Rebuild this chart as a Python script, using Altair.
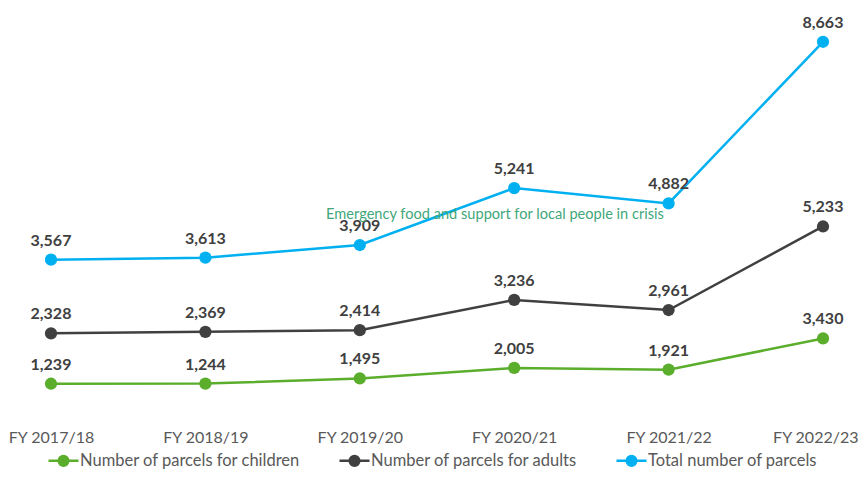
import altair as alt
import pandas as pd

categories = ["FY 2017/18", "FY 2018/19", "FY 2019/20", "FY 2020/21", "FY 2021/22", "FY 2022/23"]
series_names = ["Number of parcels for children", "Number of parcels for adults", "Total number of parcels"]
children = [1239, 1244, 1495, 2005, 1921, 3430]
adults = [2328, 2369, 2414, 3236, 2961, 5233]
total = [3567, 3613, 3909, 5241, 4882, 8663]
annotation = "Emergency food and support for local people in crisis"

colors = ["#5BAE2C", "#404040", "#00B0F0"]
domains = [[-517, 19425], [-29, 11173], [-183, 9453]]

rows = []
for name, vals in zip(series_names, [children, adults, total]):
    for c, v in zip(categories, vals):
        rows.append({"category": c, "series": name, "value": v})
df = pd.DataFrame(rows)

FONT = "Lato"

def ring(r):
    return f"M{-r},0A{r},{r} 0 1,0 {r},0A{r},{r} 0 1,0 {-r},0Z"

legend_path = "M-1.5,0L1.5,0" + ring(0.48) + ring(0.25) + ring(0.06)

last_test = f"datum.value == '{categories[-1]}'"

x_enc = alt.X(
    "category:N",
    sort=categories,
    scale=alt.Scale(type="point", padding=0, range=[43, 815]),
    axis=alt.Axis(title=None, labelAngle=0, domain=False, ticks=False, grid=False,
                  labelFont=FONT, labelFontSize=16, labelColor="#595959", labelPadding=9,
                  labelFlush=False,
                  labelAlign=alt.condition(last_test, alt.value("right"), alt.value("center")),
                  labelOffset=alt.condition(last_test, alt.value(35), alt.value(0))),
)

legend = alt.Legend(
    title=None, orient="none", direction="horizontal", legendX=44, legendY=441,
    symbolType=legend_path, symbolSize=400, symbolStrokeWidth=2.5,
    labelFont=FONT, labelFontSize=16.5, labelColor="#595959", labelLimit=0,
    columnPadding=33, labelOffset=5,
)
color_enc = alt.Color("series:N", scale=alt.Scale(domain=series_names, range=colors), legend=legend)


def series_layer(name, dom):
    base = alt.Chart(df).transform_filter(alt.datum.series == name).encode(
        x=x_enc,
        y=alt.Y("value:Q", scale=alt.Scale(domain=dom, zero=False, nice=False), axis=None),
    )
    line = base.mark_line(strokeWidth=2.5).encode(color=color_enc)
    pts = base.mark_circle(size=150, opacity=1).encode(color=color_enc)
    txt = base.mark_text(dy=-19, fontWeight="bold", font=FONT, fontSize=16, color="#404040").encode(
        text=alt.Text("value:Q", format=",")
    )
    return alt.layer(line, pts, txt)


layers = [series_layer(n, d) for n, d in zip(series_names, domains)]

note = alt.Chart(pd.DataFrame({"t": [annotation]})).mark_text(
    font=FONT, fontSize=14.6, color="#3FA77A"
).encode(text="t:N", x=alt.value(487), y=alt.value(207))

chart = (
    alt.layer(*layers, note)
    .resolve_scale(y="independent")
    .properties(width=850, height=412,
                padding={"left": 0, "top": 0, "right": 0, "bottom": 50},
                autosize=alt.AutoSizeParams(type="none"))
    .configure_view(stroke=None)
)

chart.save("out.html", embed_options={"renderer": "svg", "actions": False})
